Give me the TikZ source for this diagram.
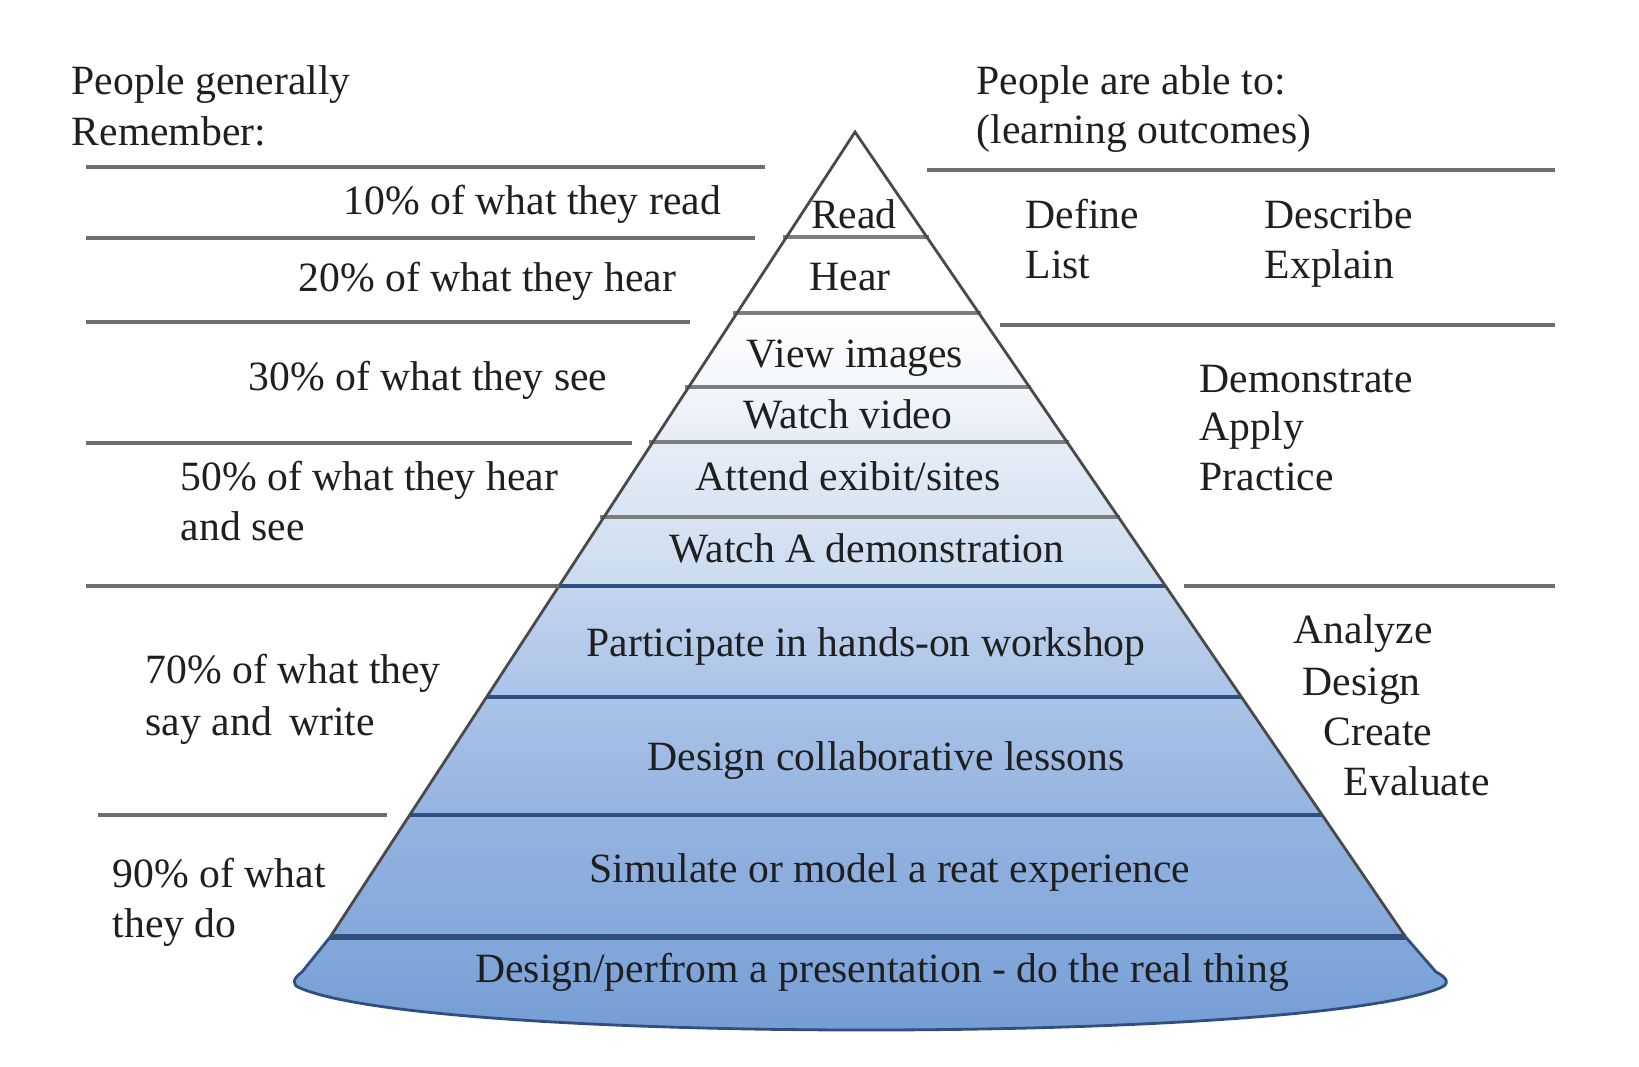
\documentclass[tikz,border=0pt]{standalone}
\usepackage{fontspec}
\setmainfont{Liberation Serif}
\usepackage{xcolor}
\usetikzlibrary{calc}

\definecolor{rulegray}{HTML}{6E6E6E}
\definecolor{edgegray}{HTML}{4A4A4A}
\definecolor{deepblue}{HTML}{2F4F80}
\definecolor{secA}{HTML}{F3F6FB}
\definecolor{secB}{HTML}{E6EDF7}
\definecolor{secC}{HTML}{D8E4F3}
\definecolor{secD}{HTML}{CADBF0}
\definecolor{secE}{HTML}{C4D5EE}
\definecolor{secF}{HTML}{AAC3E7}
\definecolor{secG}{HTML}{95B4E0}
\definecolor{secH}{HTML}{84A8DB}
\definecolor{secI}{HTML}{739CD4}

\newcommand{\pyrL}[1]{855-0.652*(#1-132)}
\newcommand{\pyrR}[1]{855+0.684*(#1-132)}

\begin{document}
\begin{tikzpicture}[x=0.01cm, y=-0.01cm,
    txt/.style={inner sep=0pt, font=\fontsize{11.85}{14}\selectfont, text=black!88},
    lft/.style={txt, anchor=base west},
    mid/.style={txt, anchor=base},
    outrule/.style={draw=rulegray, line width=1.2pt},
    inrule/.style={draw=rulegray!90, line width=0.9pt},
    deeprule/.style={draw=deepblue, line width=0.9pt},
    pyredge/.style={draw=edgegray, line width=0.8pt}]
    \useasboundingbox (0,0) rectangle (1639,1066);

    \coordinate (apex) at (855,132);
    \coordinate (bl) at ({\pyrL{937}},937);
    \coordinate (br) at ({\pyrR{937}},937);

    \foreach \ya/\yb/\ca/\cb in {132/237/white/white, 237/313/white/white,
        313/387/white/secA, 387/442/secA/secB, 442/517/secB/secC,
        517/586/secC/secD, 586/697/secE/secF, 697/815/secF/secG, 815/937/secG/secH}
        \shade[top color=\ca, bottom color=\cb] ({\pyrL{\ya}},\ya) -- ({\pyrR{\ya}},\ya)
            -- ({\pyrR{\yb}},\yb) -- ({\pyrL{\yb}},\yb) -- cycle;

    \shade[top color=secH, bottom color=secI, draw=deepblue, line width=0.8pt]
        (bl) -- (302,972) .. controls (292,979) and (292,985) .. (300,988)
        .. controls (430,1044) and (1300,1044) .. (1440,988)
        .. controls (1450,984) and (1448,978) .. (1436,972) -- (br);

    \foreach \y in {237,313,387,442,517}
        \draw[inrule] ({\pyrL{\y}-4},\y) -- ({\pyrR{\y}+2},\y);
    \foreach \y in {586,697,815}
        \draw[deeprule] ({\pyrL{\y}},\y) -- ({\pyrR{\y}},\y);
    \draw[deeprule, line width=1.5pt] (bl) -- (br);
    \draw[pyredge] (bl) -- (apex) -- (br);

    \draw[outrule] (86,167) -- (765,167);
    \draw[outrule] (86,238) -- (755,238);
    \draw[outrule] (86,322) -- (690,322);
    \draw[outrule] (86,443) -- (632,443);
    \draw[outrule] (86,586) -- ({\pyrL{586}},586);
    \draw[outrule] (98,815) -- (387,815);
    \draw[outrule] (927,170) -- (1555,170);
    \draw[outrule] (1000,325) -- (1555,325);
    \draw[outrule] (1184,586) -- (1555,586);

    \node[lft] (remA) at (71,94) {People generally};
    \node[lft] (remB) at (71,145) {Remember:};
    \node[lft] (ableA) at (976,94) {People are able to:};
    \node[lft] (ableB) at (976,143) {(learning outcomes)};

    \node[lft] (p10) at (343,214) {10\% of what they read};
    \node[lft] (p20) at (298,291) {20\% of what they hear};
    \node[lft] (p30) at (248,390) {30\% of what they see};
    \node[lft] (p50a) at (180,490) {50\% of what they hear};
    \node[lft] (p50b) at (180,540) {and see};
    \node[lft] (p70a) at (145,683) {70\% of what they};
    \node[lft] (p70b) at (145,735) {say and\, write};
    \node[lft] (p90a) at (112,887) {90\% of what};
    \node[lft] (p90b) at (112,937) {they do};

    \node[mid] (read) at (854,228) {Read};
    \node[mid] (hear) at (850,290) {Hear};
    \node[mid] (view) at (855,367) {View images};
    \node[mid] (video) at (848,428) {Watch video};
    \node[mid] (exibit) at (848,490) {Attend exibit/sites};
    \node[mid] (demo) at (867,562) {Watch A demonstration};
    \node[mid] (workshop) at (866,656) {Participate in hands-on workshop};
    \node[mid] (lessons) at (886,770) {Design collaborative lessons};
    \node[mid] (simulate) at (890,882) {Simulate or model a reat experience};
    \node[mid] (real) at (882,982) {Design/perfrom a presentation - do the real thing};

    \node[lft] (define) at (1025,228) {Define};
    \node[lft] (list) at (1025,278) {List};
    \node[lft] (describe) at (1264,228) {Describe};
    \node[lft] (explain) at (1264,278) {Explain};
    \node[lft] (demonstrate) at (1199,392) {Demonstrate};
    \node[lft] (apply) at (1199,440) {Apply};
    \node[lft] (practice) at (1199,490) {Practice};
    \node[lft] (analyze) at (1293,643) {Analyze};
    \node[lft] (design) at (1302,695) {Design};
    \node[lft] (create) at (1323,745) {Create};
    \node[lft] (evaluate) at (1343,795) {Evaluate};
\end{tikzpicture}
\end{document}
